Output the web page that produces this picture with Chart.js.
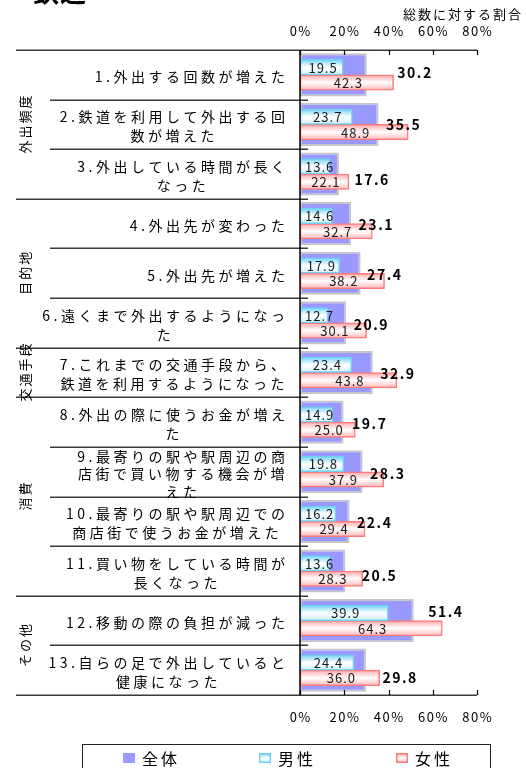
<!DOCTYPE html>
<html lang="ja">
<head>
<meta charset="utf-8">
<title>鉄道</title>
<script src="https://cdn.jsdelivr.net/npm/chart.js@4.4.1/dist/chart.umd.min.js"></script>
<style>
  html, body { margin: 0; padding: 0; background: #fff; }
  canvas { display: block; }
</style>
</head>
<body>
<canvas id="chart" width="526" height="768"></canvas>
<script>
// 鉄道 : 変化の内容 (総数に対する割合, %)
const categories = [
  ['1.外出する回数が増えた'],
  ['2.鉄道を利用して外出する回', '数が増えた'],
  ['3.外出している時間が長く', 'なった'],
  ['4.外出先が変わった'],
  ['5.外出先が増えた'],
  ['6.遠くまで外出するようになっ', 'た'],
  ['7.これまでの交通手段から、', '鉄道を利用するようになった'],
  ['8.外出の際に使うお金が増え', 'た'],
  ['9.最寄りの駅や駅周辺の商', '店街で買い物する機会が増', 'えた'],
  ['10.最寄りの駅や駅周辺での', '商店街で使うお金が増えた'],
  ['11.買い物をしている時間が', '長くなった'],
  ['12.移動の際の負担が減った'],
  ['13.自らの足で外出していると', '健康になった']
];
const groupNames = ['外出頻度', '目的地', '交通手段', '消費', 'その他'];
const groupSizes = [3, 3, 1, 4, 2];

const totalValues = [30.2, 35.5, 17.6, 23.1, 27.4, 20.9, 32.9, 19.7, 28.3, 22.4, 20.5, 51.4, 29.8];
const maleValues = [19.5, 23.7, 13.6, 14.6, 17.9, 12.7, 23.4, 14.9, 19.8, 16.2, 13.6, 39.9, 24.4];
const femaleValues = [42.3, 48.9, 22.1, 32.7, 38.2, 30.1, 43.8, 25.0, 37.9, 29.4, 28.3, 64.3, 36.0];

const xTicks = [0, 20, 40, 60, 80];

const FONT = '"Noto Sans CJK JP", "Noto Sans", sans-serif';
const PLOT_TOP = 50, PLOT_BOTTOM = 695;
const PAIR_SHARE = 0.62;
// each male/female bar: its half of the pair slot in a category row
const PAIR_BAR = (PLOT_BOTTOM - PLOT_TOP) / categories.length * PAIR_SHARE / 2;
const MALE_STOPS = ['#70d2f4', '#ffffff', '#cdf1fc'];
const FEMALE_STOPS = ['#ffa6a6', '#ffffff', '#ffb4b4'];

// hand-placed total labels in the original (px nudges)
const totalLabelNudge = [
  [23, -4], [0, -1], [8, 4], [0, 0], [-1, 0], [0, 0], [0, 0],
  [1, 0], [0, 0], [0, 0], [9, 3], [7, -10], [9, 6]
];

function putText(ctx, str, x, y, o) {
  ctx.save();
  ctx.font = o.font;
  ctx.fillStyle = o.color || '#000';
  ctx.textBaseline = 'middle';
  ctx.textAlign = 'left';
  const sp = o.spacing || 0;
  ctx.letterSpacing = sp + 'px';
  const w = ctx.measureText(str).width - sp;
  let left = x;
  if (o.align === 'center') left = x - w / 2;
  else if (o.align === 'right') left = x - w;
  ctx.fillText(str, left, y);
  ctx.restore();
  return w;
}

function textWidth(ctx, str, font, sp) {
  ctx.save();
  ctx.font = font;
  ctx.letterSpacing = sp + 'px';
  const w = ctx.measureText(str).width - sp;
  ctx.restore();
  return w;
}

function barFill(stops, side) {
  return c => {
    if (c.type !== 'data') return stops[1];
    const y = c.chart.scales.y;
    if (!y) return stops[1];
    const center = y.getPixelForValue(c.dataIndex);
    if (!isFinite(center)) return stops[1];
    const top = side === 0 ? center - PAIR_BAR : center;
    const g = c.chart.ctx.createLinearGradient(0, top, 0, top + PAIR_BAR);
    g.addColorStop(0, stops[0]);
    g.addColorStop(0.5, stops[1]);
    g.addColorStop(1, stops[2]);
    return g;
  };
}

const framePlugin = {
  id: 'frame',
  afterDatasetsDraw(chart) {
    const { ctx, chartArea: a } = chart;
    const x = chart.scales.x;
    const y = chart.scales.y;

    // separators on the label side
    ctx.save();
    ctx.strokeStyle = '#3a3a3a';
    ctx.lineWidth = 1.5;
    const groupEnds = [];
    groupSizes.reduce((s, n) => { groupEnds.push(s + n); return s + n; }, 0);
    for (let k = 0; k <= categories.length; k++) {
      const yb = Math.round(y.getPixelForValue(k - 0.5)) + 0.25;
      let x0 = 50, x1 = a.left + 8;
      if (k === 0 || k === categories.length) { x0 = 16; x1 = a.right; }
      else if (groupEnds.includes(k)) x0 = 16;
      ctx.beginPath();
      ctx.moveTo(x0, yb);
      ctx.lineTo(x1, yb);
      ctx.stroke();
    }
    // value axis line and inner ticks
    ctx.strokeStyle = '#000';
    ctx.beginPath();
    ctx.moveTo(a.left, a.top);
    ctx.lineTo(a.left, a.bottom);
    ctx.stroke();
    ctx.lineWidth = 1.2;
    xTicks.forEach(v => {
      const px = Math.round(x.getPixelForValue(v)) + 0.5;
      ctx.beginPath();
      ctx.moveTo(px, a.top); ctx.lineTo(px, a.top + 5);
      ctx.moveTo(px, a.bottom); ctx.lineTo(px, a.bottom - 5);
      ctx.stroke();
    });
    ctx.restore();

    // tick labels top and bottom
    const tickFont = '13px ' + FONT;
    xTicks.forEach(v => {
      const px = x.getPixelForValue(v);
      putText(ctx, v + '%', px, a.top - 19, { font: tickFont, align: 'center', spacing: 1.5 });
      putText(ctx, v + '%', px, a.bottom + 22, { font: tickFont, align: 'center', spacing: 1.5 });
    });
    putText(ctx, '総数に対する割合', 521, 14, { font: '13px ' + FONT, align: 'right', spacing: 2 });

    // title (partly above the top edge, as in the original)
    putText(ctx, '鉄道', 33, -8, { font: 'bold 26px ' + FONT, spacing: 1 });

    // category labels
    const catFont = '14px ' + FONT;
    categories.forEach((lines, i) => {
      const yc = y.getPixelForValue(i) + 2;
      const lh = lines.length > 2 ? 17.5 : 19;
      const maxW = Math.max(...lines.map(s => textWidth(ctx, s, catFont, 3.5)));
      const cx = 285 - maxW / 2;
      lines.forEach((s, j) => {
        putText(ctx, s, cx, yc + (j - (lines.length - 1) / 2) * lh, { font: catFont, align: 'center', spacing: 3.5 });
      });
    });

    // group labels, rotated
    let start = 0;
    groupNames.forEach((name, g) => {
      const mid = (y.getPixelForValue(start - 0.5) + y.getPixelForValue(start + groupSizes[g] - 0.5)) / 2;
      ctx.save();
      ctx.translate(25, mid);
      ctx.rotate(-Math.PI / 2);
      putText(ctx, name, 0, 0, { font: '13px ' + FONT, align: 'center', spacing: 2 });
      ctx.restore();
      start += groupSizes[g];
    });

    // male / female values inside bars
    const valFont = '13px ' + FONT;
    [1, 2].forEach(di => {
      const ds = chart.data.datasets[di];
      chart.getDatasetMeta(di).data.forEach((el, i) => {
        const s = ds.data[i].toFixed(1);
        const w = textWidth(ctx, s, valFont, 1);
        const cx = Math.max((el.base + el.x) / 2 + 1, el.base + 5 + w / 2);
        putText(ctx, s, cx, el.y + 0.5, { font: valFont, align: 'center', spacing: 1, color: '#1a1a1a' });
      });
    });

    // total values
    const totFont = 'bold 14px ' + FONT;
    const totalDs = chart.data.datasets[0];
    chart.getDatasetMeta(0).data.forEach((el, i) => {
      const [dx, dy] = totalLabelNudge[i];
      putText(ctx, totalDs.data[i].toFixed(1), el.x + 7.5 + dx, el.y + 1.5 + dy, { font: totFont, spacing: 1.5 });
    });

    // legend box
    ctx.save();
    ctx.strokeStyle = '#222';
    ctx.lineWidth = 1;
    ctx.strokeRect(82.5, 744.5, 408, 40);
    const legendItems = [
      { x: 123, fill: '#9999ff', stroke: null },
      { x: 259, stops: MALE_STOPS, stroke: '#6fd0f2' },
      { x: 396, stops: FEMALE_STOPS, stroke: '#ff7a7a' }
    ];
    legendItems.forEach((it, k) => {
      const bx = it.x, by = 753, bw = 12, bh = 10;
      if (it.fill) {
        ctx.fillStyle = it.fill;
        ctx.fillRect(bx, by, bw, bh);
      } else {
        const g = ctx.createLinearGradient(0, by, 0, by + bh);
        g.addColorStop(0, it.stops[0]); g.addColorStop(0.5, it.stops[1]); g.addColorStop(1, it.stops[2]);
        ctx.fillStyle = g;
        ctx.fillRect(bx, by, bw, bh);
        ctx.strokeStyle = it.stroke;
        ctx.lineWidth = 1.5;
        ctx.strokeRect(bx + 0.75, by + 0.75, bw - 1.5, bh - 1.5);
      }
      putText(ctx, chart.data.datasets[k].label, bx + 19, 758.5, { font: '16px ' + FONT, spacing: 3 });
    });
    ctx.restore();
  }
};

const chart = new Chart(document.getElementById('chart'), {
  type: 'bar',
  data: {
    labels: categories,
    datasets: [
      {
        label: '全体',
        data: totalValues,
        yAxisID: 'y2',
        order: 1,
        grouped: false,
        backgroundColor: '#9999ff',
        borderColor: '#c6c6c6',
        borderWidth: 2,
        borderSkipped: false,
        barPercentage: 0.87,
        categoryPercentage: 1
      },
      {
        label: '男性',
        data: maleValues,
        yAxisID: 'y',
        order: 0,
        backgroundColor: barFill(MALE_STOPS, 0),
        borderColor: '#6fd0f2',
        borderWidth: 1.5,
        borderSkipped: false,
        barThickness: PAIR_BAR
      },
      {
        label: '女性',
        data: femaleValues,
        yAxisID: 'y',
        order: 0,
        backgroundColor: barFill(FEMALE_STOPS, 1),
        borderColor: '#ff7a7a',
        borderWidth: 1.5,
        borderSkipped: false,
        barThickness: PAIR_BAR
      }
    ]
  },
  options: {
    indexAxis: 'y',
    responsive: false,
    animation: false,
    layout: { padding: { left: 300, right: 526 - 477, top: PLOT_TOP, bottom: 768 - PLOT_BOTTOM } },
    scales: {
      x: { type: 'linear', min: 0, max: 80, display: false },
      y: { type: 'category', display: false },
      y2: { type: 'category', display: false }
    },
    plugins: {
      legend: { display: false },
      tooltip: { enabled: false }
    }
  },
  plugins: [framePlugin]
});
chart.update();
</script>
</body>
</html>
